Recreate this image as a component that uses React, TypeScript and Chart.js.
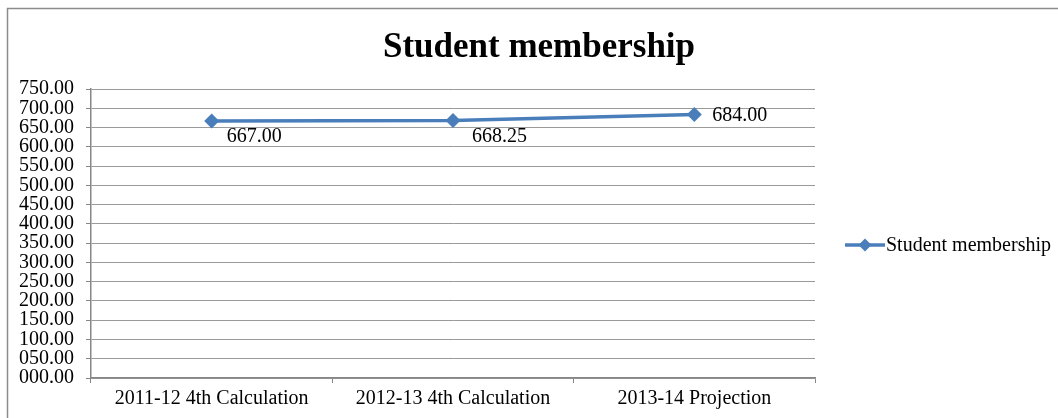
import React, { useEffect, useRef } from "react";
import { Chart, registerables } from "chart.js";

Chart.register(...registerables);

const categories = ["2011-12 4th Calculation", "2012-13 4th Calculation", "2013-14 Projection"];
const seriesName = "Student membership";
const values = [667.0, 668.25, 684.0];
const yMin = 0;
const yMax = 750;
const yStep = 50;
const chartTitle = "Student membership";

const BLUE = "#4a7ebb";
const FONT = "'Liberation Serif', 'Times New Roman', serif";

const decorPlugin = {
  id: "decor",
  beforeDraw(chart: any) {
    const ctx = chart.ctx;
    ctx.save();
    ctx.fillStyle = "#ffffff";
    ctx.fillRect(0, 0, chart.width, chart.height);
    ctx.strokeStyle = "#8c8c8c";
    ctx.lineWidth = 1.5;
    ctx.beginPath();
    ctx.moveTo(7.5, chart.height + 5);
    ctx.lineTo(7.5, 8.5);
    ctx.lineTo(chart.width + 5, 8.5);
    ctx.stroke();
    ctx.restore();
  },
  afterDraw(chart: any) {
    const ctx = chart.ctx;
    ctx.save();
    // title
    ctx.fillStyle = "#000";
    ctx.font = `bold 35px ${FONT}`;
    ctx.textAlign = "center";
    ctx.textBaseline = "middle";
    ctx.fillText(chartTitle, 539, 48);

    // data labels
    const offsets = [
      [15, 16],
      [19, 16],
      [18, 1],
    ];
    const meta = chart.getDatasetMeta(0);
    ctx.font = `20px ${FONT}`;
    ctx.textAlign = "left";
    meta.data.forEach((pt: any, i: number) => {
      const v = values[i];
      ctx.fillText(v.toFixed(2), pt.x + offsets[i][0], pt.y + offsets[i][1]);
    });

    // legend
    const ly = 245;
    ctx.strokeStyle = BLUE;
    ctx.lineWidth = 3.5;
    ctx.beginPath();
    ctx.moveTo(845, ly);
    ctx.lineTo(885, ly);
    ctx.stroke();
    ctx.fillStyle = BLUE;
    ctx.beginPath();
    const r = 6.5;
    ctx.moveTo(865, ly - r);
    ctx.lineTo(865 + r, ly);
    ctx.lineTo(865, ly + r);
    ctx.lineTo(865 - r, ly);
    ctx.closePath();
    ctx.fill();
    ctx.fillStyle = "#000";
    ctx.font = `20px ${FONT}`;
    ctx.fillText(seriesName, 886, ly + 1);
    ctx.restore();
  },
};

export default function App() {
  const ref = useRef<HTMLCanvasElement>(null);
  useEffect(() => {
    if (!ref.current) return;
    const chart = new Chart(ref.current, {
      type: "line",
      data: {
        labels: categories,
        datasets: [
          {
            label: seriesName,
            data: values,
            borderColor: BLUE,
            backgroundColor: BLUE,
            borderWidth: 3.5,
            pointStyle: "rectRot",
            pointRadius: 7.5,
            pointHoverRadius: 7.5,
            pointBackgroundColor: BLUE,
            pointBorderColor: BLUE,
            pointBorderWidth: 0,
            tension: 0,
          },
        ],
      },
      options: {
        animation: false,
        responsive: false,
        events: [],
        layout: { padding: { top: 89, right: 243, left: 0, bottom: 0 } },
        plugins: {
          legend: { display: false },
          title: { display: false },
          tooltip: { enabled: false },
        },
        scales: {
          x: {
            offset: true,
            afterFit(scale: any) {
              scale.height = 40;
            },
            grid: {
              offset: true,
              drawOnChartArea: false,
              drawTicks: true,
              tickLength: 5,
              color: "#868686",
              lineWidth: 1,
            },
            border: { color: "#868686", width: 1.5 },
            ticks: {
              color: "#000",
              font: { family: FONT, size: 20 },
              padding: 4,
              maxRotation: 0,
              autoSkip: false,
            },
          },
          y: {
            min: yMin,
            max: yMax,
            afterFit(scale: any) {
              scale.width = 91;
            },
            grid: {
              color: "#9a9a9a",
              lineWidth: 1,
              drawTicks: true,
              tickLength: 5,
              tickColor: "#868686",
            },
            border: { color: "#868686", width: 1.5 },
            ticks: {
              stepSize: yStep,
              color: "#000",
              padding: 12,
              font: { family: FONT, size: 20, lineHeight: 1 },
              autoSkip: false,
              callback: (v: any) => Number(v).toFixed(2).padStart(6, "0"),
            },
          },
        },
      },
      plugins: [decorPlugin],
    });
    return () => chart.destroy();
  }, []);
  return (
    <div style={{ position: "fixed", left: 0, top: 0, width: 1058, height: 418, background: "#fff" }}>
      <canvas ref={ref} width={1058} height={418} style={{ width: 1058, height: 418, display: "block" }} />
    </div>
  );
}
